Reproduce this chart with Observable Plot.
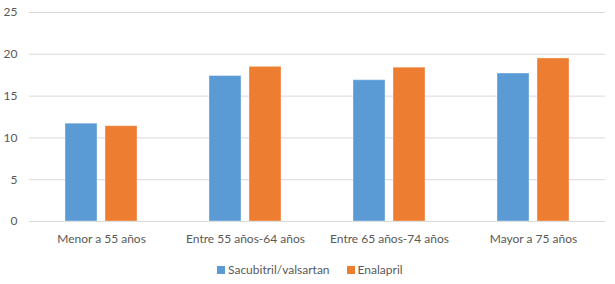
<!DOCTYPE html>
<html><head><meta charset="utf-8">
<script src="https://cdn.jsdelivr.net/npm/d3@7"></script>
<script src="https://cdn.jsdelivr.net/npm/@observablehq/plot@0.6"></script>
<style>
body{margin:0;background:#fff;font-family:Lato,sans-serif;}
#legend{display:flex;align-items:center;margin-left:217px;margin-top:5px;font-size:12px;color:#595959;line-height:14px;}
#legend span.sw{display:inline-block;width:8px;height:8px;margin-right:3px;}
#legend span.lb{margin-right:17px;}
</style></head>
<body>
<div id="chart"></div>
<div id="legend"></div>
<script>
const categories = ["Menor a 55 años","Entre 55 años-64 años","Entre 65 años-74 años","Mayor a 75 años"];
const series = ["Sacubitril/valsartan","Enalapril"];
const sacubitril = [11.7,17.4,16.9,17.7];
const enalapril = [11.4,18.5,18.4,19.5];
const colors = ["#5B9BD5","#ED7D31"];
const yTicks = [0,5,10,15,20,25];

const data = [];
categories.forEach((c,i)=>{
  data.push({cat:c, s:series[0], v:sacubitril[i]});
  data.push({cat:c, s:series[1], v:enalapril[i]});
});

const chart = Plot.plot({
  width:615, height:258,
  marginLeft:28, marginRight:10, marginTop:12, marginBottom:37,
  style:{fontFamily:"Lato, sans-serif", fontSize:"12px", color:"#595959", background:"#fff"},
  fx:{domain:categories, padding:0, label:null, axis:"bottom", tickSize:0, tickPadding:13},
  x:{domain:series, paddingInner:0.195, paddingOuter:0.857, axis:null},
  y:{domain:[0,25], ticks:yTicks, label:null, tickSize:0, tickPadding:12},
  color:{domain:series, range:colors},
  marks:[
    Plot.ruleY(yTicks, {stroke:"#d9d9d9", strokeWidth:1}),
    Plot.barY(data, {fx:"cat", x:"s", y:"v", fill:"s", stroke:"#ffffff", strokeOpacity:0.35, strokeWidth:1})
  ]
});
document.getElementById("chart").appendChild(chart);

const leg = document.getElementById("legend");
series.forEach((s,i)=>{
  const sw=document.createElement("span"); sw.className="sw"; sw.style.background=colors[i];
  const lb=document.createElement("span"); lb.className="lb"; lb.textContent=s;
  leg.appendChild(sw); leg.appendChild(lb);
});
</script>
</body></html>
